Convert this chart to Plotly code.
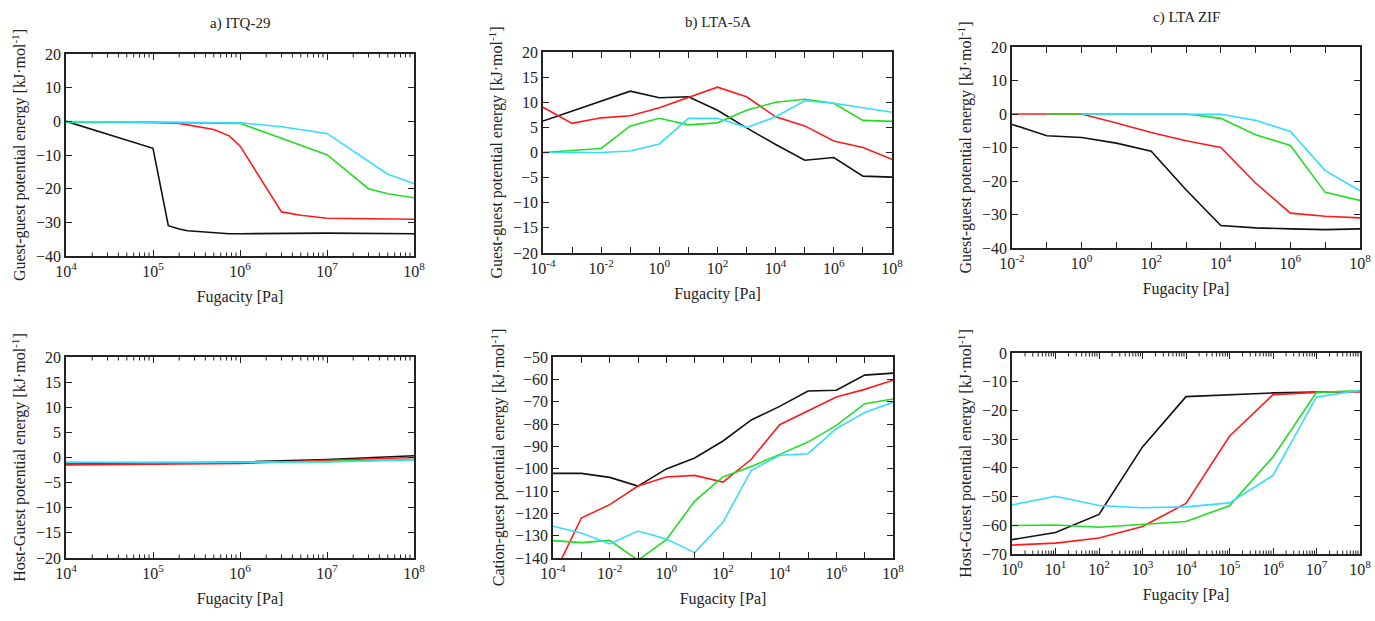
import plotly.graph_objects as go

# ---------------- data ----------------
# a) ITQ-29, guest-guest
a_black_x = [1e4, 1e5, 1.5e5, 2e5, 2.5e5, 7.5e5, 1e6, 1e7, 1e8]
a_black_y = [0, -8, -31, -32, -32.5, -33.4, -33.4, -33.2, -33.4]
a_red_x = [1e4, 1e5, 2e5, 5e5, 7.5e5, 1e6, 3e6, 5e6, 1e7, 3e7, 1e8]
a_red_y = [-0.2, -0.3, -0.6, -2.4, -4.3, -7.3, -26.9, -27.9, -28.8, -29.0, -29.1]
a_green_x = [1e4, 1e5, 1e6, 1e7, 3e7, 5e7, 1e8]
a_green_y = [-0.3, -0.3, -0.6, -9.9, -20.0, -21.5, -22.7]
a_cyan_x = [1e4, 1e5, 1e6, 3e6, 1e7, 5e7, 1e8]
a_cyan_y = [-0.1, -0.2, -0.4, -1.6, -3.6, -15.7, -18.5]

# b) LTA-5A, guest-guest
b_x = [1e-4, 1e-3, 1e-2, 1e-1, 1e0, 1e1, 1e2, 1e3, 1e4, 1e5, 1e6, 1e7, 1e8]
b_black = [6.25, 8.2, 10.1, 12.2, 10.9, 11.1, 8.4, 4.9, 1.6, -1.55, -1.0, -4.7, -4.9]
b_red = [9.0, 5.8, 6.9, 7.3, 8.9, 10.9, 13.0, 11.1, 7.1, 5.3, 2.3, 1.0, -1.35]
b_green = [0.0, 0.4, 0.8, 5.3, 6.8, 5.5, 5.9, 8.4, 10.0, 10.6, 9.8, 6.4, 6.2]
b_cyan = [0.0, 0.0, 0.0, 0.3, 1.7, 6.8, 6.8, 5.0, 7.1, 10.3, 9.8, 8.9, 8.0]

# c) LTA ZIF, guest-guest
c_black_x = [1e-2, 1e-1, 1e0, 1e1, 1e2, 1e3, 1e4, 1e5, 1e6, 1e7, 1e8]
c_black_y = [-3.1, -6.5, -7.0, -8.7, -11.1, -22.6, -33.3, -34.0, -34.3, -34.5, -34.3]
c_red_x = [1e-2, 1e-1, 1e0, 1e1, 1e2, 1e3, 1e4, 1e5, 1e6, 1e7, 1e8]
c_red_y = [0, 0, 0, -2.7, -5.5, -8.0, -10.0, -20.6, -29.6, -30.5, -31.0]
c_green_x = [1e-1, 1e0, 1e1, 1e2, 1e3, 1e4, 1e5, 1e6, 1e7, 1e8]
c_green_y = [0, 0, 0, 0, 0, -1.3, -6.2, -9.4, -23.4, -25.8]
c_cyan_x = [1e0, 1e1, 1e2, 1e3, 1e4, 1e5, 1e6, 1e7, 1e8]
c_cyan_y = [0, 0, 0, 0, -0.1, -1.9, -5.2, -16.9, -22.9]

# d) ITQ-29, host-guest
d_x = [1e4, 1e5, 1e6, 1e7, 1e8]
d_black = [-1.3, -1.2, -0.9, -0.4, 0.35]
d_red = [-1.5, -1.35, -1.2, -0.55, 0.0]
d_green = [-1.0, -1.1, -0.95, -0.8, -0.4]
d_cyan = [-0.95, -0.95, -0.9, -0.9, -0.5]

# e) LTA-5A, cation-guest
e_x = [1e-4, 1e-3, 1e-2, 1e-1, 1e0, 1e1, 1e2, 1e3, 1e4, 1e5, 1e6, 1e7, 1e8]
e_black = [-102.1, -102.1, -103.9, -107.8, -100.1, -95.2, -87.6, -78.2, -72.1, -65.2, -64.9, -58.1, -57.2]
e_red = [-148.4, -122.1, -116.1, -107.8, -103.7, -103.0, -106.0, -95.8, -80.3, -74.2, -67.9, -64.5, -60.4]
e_green = [-132.2, -133.1, -132.1, -141.0, -131.8, -114.5, -103.7, -99.0, -93.6, -88.1, -80.6, -70.9, -68.8]
e_cyan = [-125.8, -128.8, -133.7, -127.9, -131.5, -137.6, -124.0, -100.7, -94.0, -93.3, -82.1, -74.8, -70.3]

# f) LTA ZIF, host-guest
f_x = [1e0, 1e1, 1e2, 1e3, 1e4, 1e5, 1e6, 1e7, 1e8]
f_black = [-65.0, -62.5, -56.2, -32.7, -15.2, -14.6, -13.9, -13.6, -13.4]
f_red = [-66.9, -66.2, -64.4, -60.4, -52.4, -29.0, -14.5, -13.7, -13.5]
f_green = [-60.1, -59.9, -60.7, -59.6, -58.7, -53.2, -36.2, -13.7, -13.2]
f_cyan = [-52.9, -49.9, -53.1, -53.9, -53.6, -52.2, -42.6, -15.3, -13.0]

titles = ["a) ITQ-29", "b) LTA-5A", "c) LTA ZIF"]
ytitles = ["Guest-guest potential energy [kJ·mol<sup>-1</sup>]",
           "Guest-guest potential energy [kJ·mol<sup>-1</sup>]",
           "Guest-guest potential energy [kJ·mol<sup>-1</sup>]",
           "Host-Guest potential energy [kJ·mol<sup>-1</sup>]",
           "Cation-guest potential energy [kJ·mol<sup>-1</sup>]",
           "Host-Guest potential energy [kJ·mol<sup>-1</sup>]"]
xtitle = "Fugacity [Pa]"

BLACK, RED, GREEN, CYAN = "#111111", "#ff1a1a", "#22dd22", "#33ddff"

W, H = 1375, 621
FONT = "Liberation Serif"
TC = "#222"

# plot boxes in pixels: (left, right, top, bottom)
boxes = [(66, 414, 54, 256), (543, 892, 52, 253), (1012, 1360, 47, 248),
         (66, 414, 357, 558), (553, 893, 357, 558), (1012, 1360, 353, 554)]

panels = [
    [(a_black_x, a_black_y, BLACK), (a_red_x, a_red_y, RED), (a_green_x, a_green_y, GREEN), (a_cyan_x, a_cyan_y, CYAN)],
    [(b_x, b_black, BLACK), (b_x, b_red, RED), (b_x, b_green, GREEN), (b_x, b_cyan, CYAN)],
    [(c_black_x, c_black_y, BLACK), (c_red_x, c_red_y, RED), (c_green_x, c_green_y, GREEN), (c_cyan_x, c_cyan_y, CYAN)],
    [(d_x, d_black, BLACK), (d_x, d_red, RED), (d_x, d_green, GREEN), (d_x, d_cyan, CYAN)],
    [(e_x, e_black, BLACK), (e_x, e_red, RED), (e_x, e_green, GREEN), (e_x, e_cyan, CYAN)],
    [(f_x, f_black, BLACK), (f_x, f_red, RED), (f_x, f_green, GREEN), (f_x, f_cyan, CYAN)],
]

# x axis: (first decade, last decade, label step in decades, minor ticks 2..9)
xspec = [(4, 8, 1, True), (-4, 8, 2, False), (-2, 8, 2, False),
         (4, 8, 1, True), (-4, 8, 2, False), (0, 8, 1, True)]
# y axis: (min, max, step)
yspec = [(-40, 20, 10), (-20, 20, 5), (-40, 20, 10),
         (-20, 20, 5), (-140, -50, 10), (-70, 0, 10)]

fig = go.Figure()
shapes = []
for i, traces in enumerate(panels):
    n = "" if i == 0 else str(i + 1)
    for xs, ys, col in traces:
        fig.add_trace(go.Scatter(x=xs, y=ys, mode="lines", line=dict(color=col, width=1.6),
                                 xaxis="x" + n, yaxis="y" + n, showlegend=False, hoverinfo="skip"))
    l, r, t, b = boxes[i]
    d0, d1, step, minor = xspec[i]
    tv = [10.0 ** k for k in range(d0, d1 + 1)]
    tt = ["10<sup>%d</sup>" % k if (k - d0) % step == 0 else "" for k in range(d0, d1 + 1)]
    xa = dict(type="log", range=[d0, d1], domain=[l / W, r / W], anchor="y" + n,
              tickmode="array", tickvals=tv, ticktext=tt, ticks="inside", ticklen=6, tickwidth=1.2,
              tickcolor=TC, showline=True, linecolor=TC, linewidth=1.6, mirror="ticks",
              showgrid=False, zeroline=False, automargin=False,
              tickfont=dict(family=FONT, size=16, color=TC),
              title=dict(text=xtitle, font=dict(family=FONT, size=16, color=TC), standoff=12))
    fig.layout["xaxis" + n] = xa
    if minor:
        frac = 3.5 / (b - t)
        for k in range(d0, d1):
            for mm in range(2, 10):
                xv = mm * 10.0 ** k
                for (ya0, ya1) in ((0, frac), (1 - frac, 1)):
                    shapes.append(dict(type="line", xref="x" + n, yref="y%s domain" % n,
                                       x0=xv, x1=xv, y0=ya0, y1=ya1,
                                       line=dict(color=TC, width=1)))
    y0, y1, ys_ = yspec[i]
    ya = dict(range=[y0, y1], domain=[1 - b / H, 1 - t / H], anchor="x" + n,
              tickmode="linear", tick0=y0, dtick=ys_, ticks="inside", ticklen=6, tickwidth=1.2,
              tickcolor=TC, showline=True, linecolor=TC, linewidth=1.6, mirror="ticks",
              showgrid=False, zeroline=False, automargin=False,
              tickfont=dict(family=FONT, size=16, color=TC),
              title=dict(text=ytitles[i], font=dict(family=FONT, size=16, color=TC), standoff=6))
    fig.layout["yaxis" + n] = ya

for i, ttl in enumerate(titles):
    l, r, t, b = boxes[i]
    fig.add_annotation(text=ttl, x=(l + r) / 2 / W, y=1 - (t - 30) / H, xref="paper", yref="paper",
                       showarrow=False, font=dict(family=FONT, size=15, color=TC),
                       xanchor="center", yanchor="middle")

fig.update_layout(width=W, height=H, margin=dict(l=0, r=0, t=0, b=0, autoexpand=False),
                  font=dict(family=FONT), shapes=shapes,
                  plot_bgcolor="white", paper_bgcolor="white")
fig.write_html("out.html", config={"displayModeBar": False},
               post_script="document.body.style.margin='0';document.body.style.padding='0';")
